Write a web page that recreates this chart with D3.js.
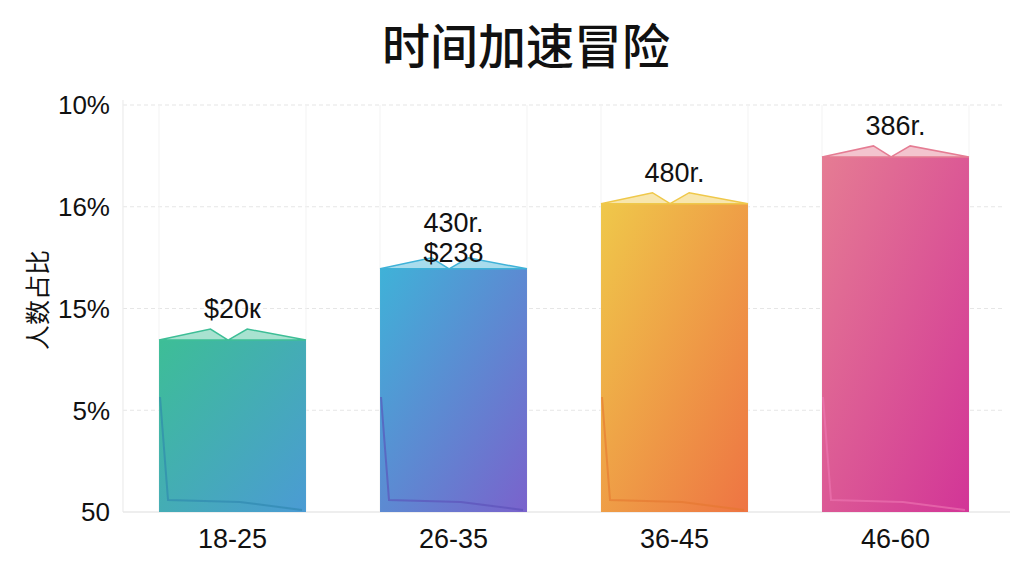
<!DOCTYPE html>
<html><head><meta charset="utf-8">
<script src="https://cdn.jsdelivr.net/npm/d3@7"></script>
<style>
html,body{margin:0;padding:0;background:#fff;}
svg{display:block;}
</style></head>
<body>
<svg id="chart" width="1024" height="576"></svg>
<script>
const title = "时间加速冒险";
const yAxisTitle = "人数占比";
const categories = ["18-25", "26-35", "36-45", "46-60"];
const values = [8.45, 11.95, 15.15, 17.45];
const valueLabels = [["$20к"], ["430r.", "$238"], ["480r."], ["386r."]];
const tickValues = [0, 5, 10, 15, 20];
const tickLabels = ["50", "5%", "15%", "16%", "10%"];
const colorStart = ["#3dbe96", "#3fb2d8", "#efc84a", "#e57c93"];
const colorEnd = ["#4b9bd4", "#7a62cc", "#ee7443", "#d23597"];
const lineColor = ["#2d86ad", "#5a4fb8", "#e5762e", "#ee78b4"];

const svg = d3.select("#chart");
const margin = {left: 123, right: 19, top: 105, bottom: 64};
const W = 1024, H = 576;

const x = d3.scaleBand().domain(categories)
  .range([margin.left, W - margin.right])
  .paddingInner(0.335).paddingOuter(0.163);
const y = d3.scaleLinear().domain([0, 20]).range([H - margin.bottom, margin.top]);

const defs = svg.append("defs");
categories.forEach((c, i) => {
  const g = defs.append("linearGradient").attr("id", "g" + i)
    .attr("x1", "0%").attr("y1", "0%").attr("x2", "100%").attr("y2", "100%");
  g.append("stop").attr("offset", "0%").attr("stop-color", colorStart[i]);
  g.append("stop").attr("offset", "100%").attr("stop-color", colorEnd[i]);
});

// title
svg.append("text").attr("x", 526).attr("y", 64)
  .attr("text-anchor", "middle")
  .attr("font-family", "'Noto Sans CJK SC', sans-serif")
  .attr("font-weight", 500)
  .attr("font-size", 48).attr("fill", "#111").text(title);

// grid lines (horizontal, dashed)
svg.append("g").selectAll("line").data(tickValues.filter(v => v > 0)).join("line")
  .attr("x1", margin.left).attr("x2", W - margin.right)
  .attr("y1", d => y(d)).attr("y2", d => y(d))
  .attr("stroke", "#e6e6e6").attr("stroke-width", 1.2).attr("stroke-dasharray", "4,3");

// faint vertical lines
const vlines = [];
categories.forEach(c => { vlines.push(x(c)); vlines.push(x(c) + x.bandwidth()); });
svg.append("g").selectAll("line").data(vlines).join("line")
  .attr("x1", d => d).attr("x2", d => d)
  .attr("y1", y(20)).attr("y2", y(0))
  .attr("stroke", "#f3f3f3").attr("stroke-width", 1);

// y axis line
svg.append("line").attr("x1", margin.left).attr("x2", margin.left)
  .attr("y1", y(20) - 5).attr("y2", y(0))
  .attr("stroke", "#ececec").attr("stroke-width", 1.2);
// baseline
svg.append("line").attr("x1", margin.left).attr("x2", W - margin.right + 5)
  .attr("y1", y(0)).attr("y2", y(0))
  .attr("stroke", "#e8e8e8").attr("stroke-width", 1.5);

// y axis tick labels
const yAxis = d3.axisLeft(y).tickValues(tickValues)
  .tickFormat((d, i) => tickLabels[i]).tickSize(0).tickPadding(13);
const ya = svg.append("g").attr("transform", `translate(${margin.left},0)`).call(yAxis);
ya.select(".domain").remove();
ya.selectAll("text").attr("font-family", "'Liberation Sans', Arial, sans-serif")
  .attr("font-size", 26).attr("fill", "#111").attr("dy", "0.34em");

// y axis title
svg.append("text").attr("transform", "translate(47,300) rotate(-90)")
  .attr("text-anchor", "middle")
  .attr("font-family", "'Noto Sans CJK SC', sans-serif")
  .attr("font-size", 25).attr("fill", "#111").text(yAxisTitle);

// x axis labels
const xAxis = d3.axisBottom(x).tickSize(0).tickPadding(17);
const xa = svg.append("g").attr("transform", `translate(0,${y(0)})`).call(xAxis);
xa.select(".domain").remove();
xa.selectAll("text").attr("font-family", "'Liberation Sans', Arial, sans-serif")
  .attr("font-size", 27).attr("fill", "#111");

// bars
const bars = svg.append("g").selectAll("g").data(categories).join("g");
bars.append("rect")
  .attr("x", d => x(d)).attr("width", x.bandwidth())
  .attr("y", (d, i) => y(values[i])).attr("height", (d, i) => y(0) - y(values[i]))
  .attr("fill", (d, i) => `url(#g${i})`);

// roof shapes
bars.append("path")
  .attr("d", (d, i) => {
    const x0 = x(d), w = x.bandwidth(), t = y(values[i]);
    return `M${x0},${t} L${x0 + w * 0.35},${t - 11} L${x0 + w * 0.47},${t} L${x0 + w * 0.6},${t - 11} L${x0 + w},${t} Z`;
  })
  .attr("fill", (d, i) => colorStart[i]).attr("fill-opacity", 0.45)
  .attr("stroke", (d, i) => colorStart[i]).attr("stroke-width", 1.5);

// inner decorative lines
bars.append("path")
  .attr("d", (d, i) => {
    const x0 = x(d), w = x.bandwidth(), b = y(0);
    return `M${x0 + 1},${b - 115} L${x0 + 9},${b - 12} L${x0 + w * 0.55},${b - 10} L${x0 + w - 4},${b - 2}`;
  })
  .attr("fill", "none")
  .attr("stroke", (d, i) => lineColor[i]).attr("stroke-opacity", 0.6).attr("stroke-width", 2);

// value labels
bars.each(function(d, i) {
  const g = d3.select(this);
  const cx = x(d) + x.bandwidth() / 2;
  const t = y(values[i]);
  const lines = valueLabels[i];
  lines.forEach((s, j) => {
    const offset = lines.length === 1 ? 22 : (lines.length - 1 - j) * 30 + 7;
    g.append("text").attr("x", cx).attr("y", t - offset)
      .attr("text-anchor", "middle")
      .attr("font-family", "'Liberation Sans', Arial, sans-serif")
      .attr("font-size", 27).attr("fill", "#111").text(s);
  });
});
</script>
</body></html>
